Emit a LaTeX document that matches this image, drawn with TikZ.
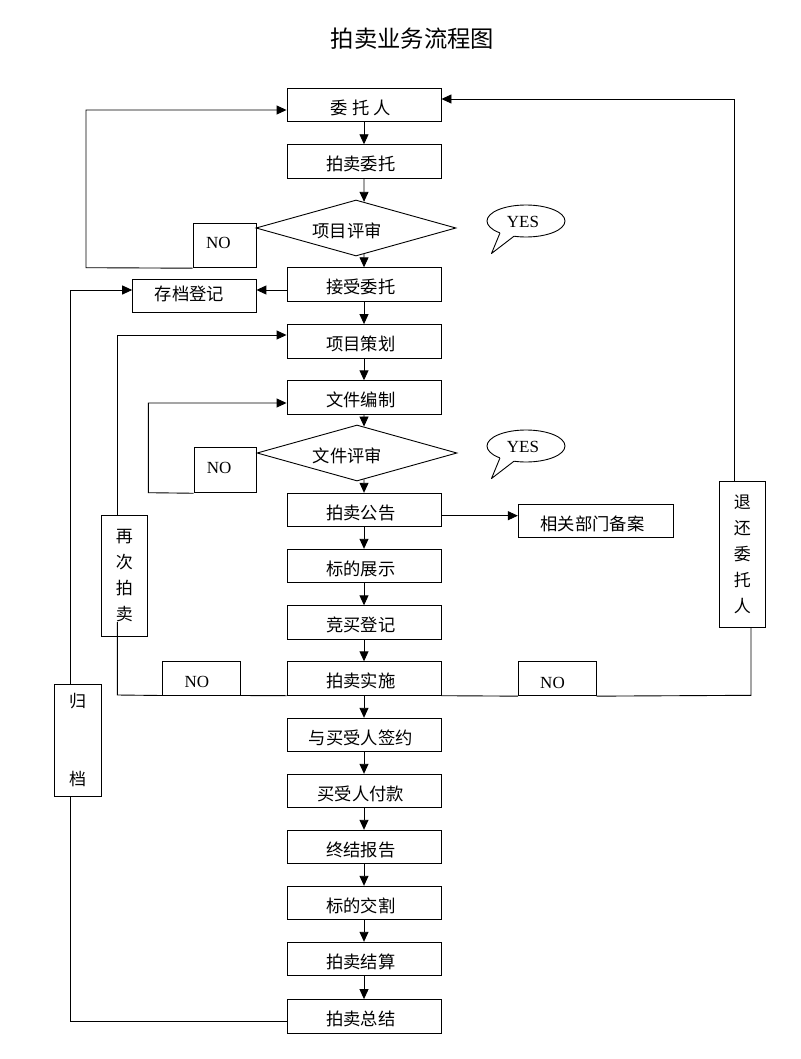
\documentclass[tikz,border=0pt]{standalone}
\usepackage{fontspec}
\setmainfont{Liberation Serif}
\newfontfamily\cjk{Noto Sans CJK SC}
\usetikzlibrary{arrows.meta,shapes.geometric,calc}
\begin{document}
\begin{tikzpicture}[x=1pt,y=-1pt,line width=0.9pt,
  cjkfont/.style={font=\cjk\fontsize{17.3}{20}\selectfont},
  lbl/.style={inner sep=0pt,cjkfont},
  box/.style={draw,rectangle,minimum width=154pt,minimum height=33.5pt,inner sep=0pt,
    label={[lbl,xshift=-3.3pt,yshift=-2.7pt]center:#1}},
  dia/.style={draw,diamond,minimum width=200pt,minimum height=56pt,inner sep=0pt},
  sidebox/.style={draw,rectangle,inner sep=0pt},
  nobox/.style={draw,rectangle,inner sep=0pt},
  nolbl/.style={inner sep=0pt,font=\fontsize{17}{20}\selectfont},
  vbox/.style={draw,rectangle,inner sep=0pt,align=center,font=\cjk\fontsize{17}{26}\selectfont},
  bubble/.style={draw,ellipse,minimum width=78pt,minimum height=32pt,inner sep=0pt},
  arr/.style={-{Triangle[length=10pt,width=9pt]}}]
\useasboundingbox (0,0) rectangle (800,1059);

\node[font=\cjk\fontsize{23.3}{26}\selectfont] (title) at (412.5,38.3) {拍卖业务流程图};

% main column
\node[box=委 托 人] (b1) at (364,105) {};
\node[box=拍卖委托] (b2) at (364,161.5) {};
\node[dia,label={[lbl,xshift=-9pt,yshift=-3.3pt]center:项目评审}] (d1) at (356,228) {};
\node[box=接受委托] (b3) at (364,284.5) {};
\node[box=项目策划] (b4) at (364,341.3) {};
\node[box=文件编制] (b5) at (364,397.5) {};
\node[dia,label={[lbl,xshift=-9.5pt,yshift=-2.8pt]center:文件评审}] (d2) at (357,453) {};
\node[box=拍卖公告] (b6) at (364,510) {};
\node[box=标的展示] (b7) at (364,566) {};
\node[box=竞买登记] (b8) at (364,622.5) {};
\node[box=拍卖实施] (b9) at (364,678.5) {};
\node[box=与买受人签约] (b10) at (364,735) {};
\node[box=买受人付款] (b11) at (364,791) {};
\node[box=终结报告] (b12) at (364,847) {};
\node[box=标的交割] (b13) at (364,903) {};
\node[box=拍卖结算] (b14) at (364,959) {};
\node[box=拍卖总结] (b15) at (364,1016.3) {};

% side nodes
\node[sidebox,minimum width=123.3pt,minimum height=33.7pt,
  label={[lbl,xshift=-5pt,yshift=1.8pt]center:存档登记}] (arch) at (194.3,296) {};
\node[sidebox,minimum width=155pt,minimum height=33.4pt,
  label={[lbl,xshift=-3.3pt,yshift=-3.2pt]center:相关部门备案}] (rec) at (595.8,521) {};
\node[nobox,minimum width=63pt,minimum height=44.5pt,
  label={[nolbl,xshift=-6.2pt,yshift=2.2pt]center:NO}] (no1) at (224.5,245.5) {};
\node[nobox,minimum width=62pt,minimum height=45pt,
  label={[nolbl,xshift=-5.8pt,yshift=2pt]center:NO}] (no2) at (225,470.3) {};
\node[nobox,minimum width=77.3pt,minimum height=33.3pt,
  label={[nolbl,xshift=-4.6pt,yshift=-3.3pt]center:NO}] (no3) at (201.4,678.4) {};
\node[nobox,minimum width=77.7pt,minimum height=34pt,
  label={[nolbl,xshift=-4.7pt,yshift=-3.8pt]center:NO}] (no4) at (557.2,678.7) {};
\node[vbox,minimum width=46.7pt,minimum height=120.3pt] (again) at (124.3,575.8) {再\\次\\拍\\卖};
\node[vbox,minimum width=46.7pt,minimum height=145.6pt] (ret) at (742.3,554.5) {退\\还\\委\\托\\人};
\node[vbox,minimum width=46.7pt,minimum height=112.5pt,font=\cjk\fontsize{17}{20}\selectfont] (gd) at (77.7,740.3) {归\\[58.4pt]档};

% YES callouts
\node[bubble,label={[nolbl,xshift=-3pt,yshift=-0.7pt]center:YES}] (ye1) at (526,221) {};
\node[bubble,label={[nolbl,xshift=-3pt,yshift=-0.7pt]center:YES}] (ye2) at (526,446) {};
\foreach \e in {ye1,ye2}{
  \coordinate (\e A) at ($(\e)+(-26,11.9)$);
  \coordinate (\e B) at ($(\e)+(-12,15.2)$);
  \coordinate (\e T) at ($(\e)+(-34.5,32.5)$);
  \fill[white] (\e A) -- (\e T) -- (\e B) -- ($(\e B)+(0,-4)$) -- ($(\e A)+(0,-4)$) -- cycle;
  \draw[line join=round] (\e A) -- (\e T) -- (\e B);
}

% helper coordinates
\coordinate (d1in) at ($(d1.north)!0.08!(d1.east)$);
\coordinate (d1out) at ($(d1.south)!0.08!(d1.east)$);
\coordinate (d2in) at ($(d2.north)!0.07!(d2.east)$);
\coordinate (d2out) at ($(d2.south)!0.07!(d2.east)$);
\coordinate (L1) at (86,267.7);
\coordinate (L2) at (148.3,492.7);
\coordinate (p3) at ($(b3.west)+(0,5.5)$);
\coordinate (p6) at ($(b6.east)+(0,5.7)$);
\coordinate (g1) at ($(gd.north)+(-7,0)$);
\coordinate (g2) at ($(gd.south)+(-7,0)$);
\coordinate (gb) at ($(b15.west)+(0,4.7)$);
\coordinate (a1) at ($(again.north)+(-7,0)$);
\coordinate (a2) at ($(again.south)+(-7,-14.3)$);
\coordinate (aL) at (117.3,695);
\coordinate (r1) at ($(ret.north)+(-8.3,0)$);
\coordinate (r2) at ($(ret.south)+(8.7,0)$);
\coordinate (rR) at (751,695.3);

% main arrows
\draw[arr] (b1) -- (b2);
\draw[arr] (b2.south) -- (d1in);
\draw[arr] (d1out) -- (b3.north);
\draw[arr] (b3) -- (b4);
\draw[arr] (b4) -- (b5);
\draw[arr] (b5.south) -- (d2in);
\draw[arr] (d2out) -- (b6.north);
\draw[arr] (b6) -- (b7);
\draw[arr] (b7) -- (b8);
\draw[arr] (b8) -- (b9);
\draw[arr] (b9) -- (b10);
\draw[arr] (b10) -- (b11);
\draw[arr] (b11) -- (b12);
\draw[arr] (b12) -- (b13);
\draw[arr] (b13) -- (b14);
\draw[arr] (b14) -- (b15);

% NO loops
\draw[arr] (no1.south west) -- (L1) |- ($(b1.west)+(0,5)$);
\draw[arr] (no2.south west) -- (L2) |- ($(b5.west)+(0,5.5)$);

% archive
\draw[arr] (p3) -- (p3 -| arch.east);
\draw[arr] (g1) -- (g1 |- p3) -- (p3 -| arch.west);
\draw (gb) -- (gb -| g2) -- (g2);

% announcement filing
\draw[arr] (p6) -- (p6 -| rec.west);

% re-auction
\draw (b9.south west) -- (no3.south east);
\draw (no3.south west) -- (aL) -- (a2);
\draw[arr] (a1) |- ($(b4.west)+(0,-6.3)$);

% return to client
\draw (b9.south east) -- (no4.south west);
\draw (no4.south east) -- (rR) -- (r2);
\draw[arr] (r1) |- ($(b1.east)+(0,-6)$);
\end{tikzpicture}
\end{document}
